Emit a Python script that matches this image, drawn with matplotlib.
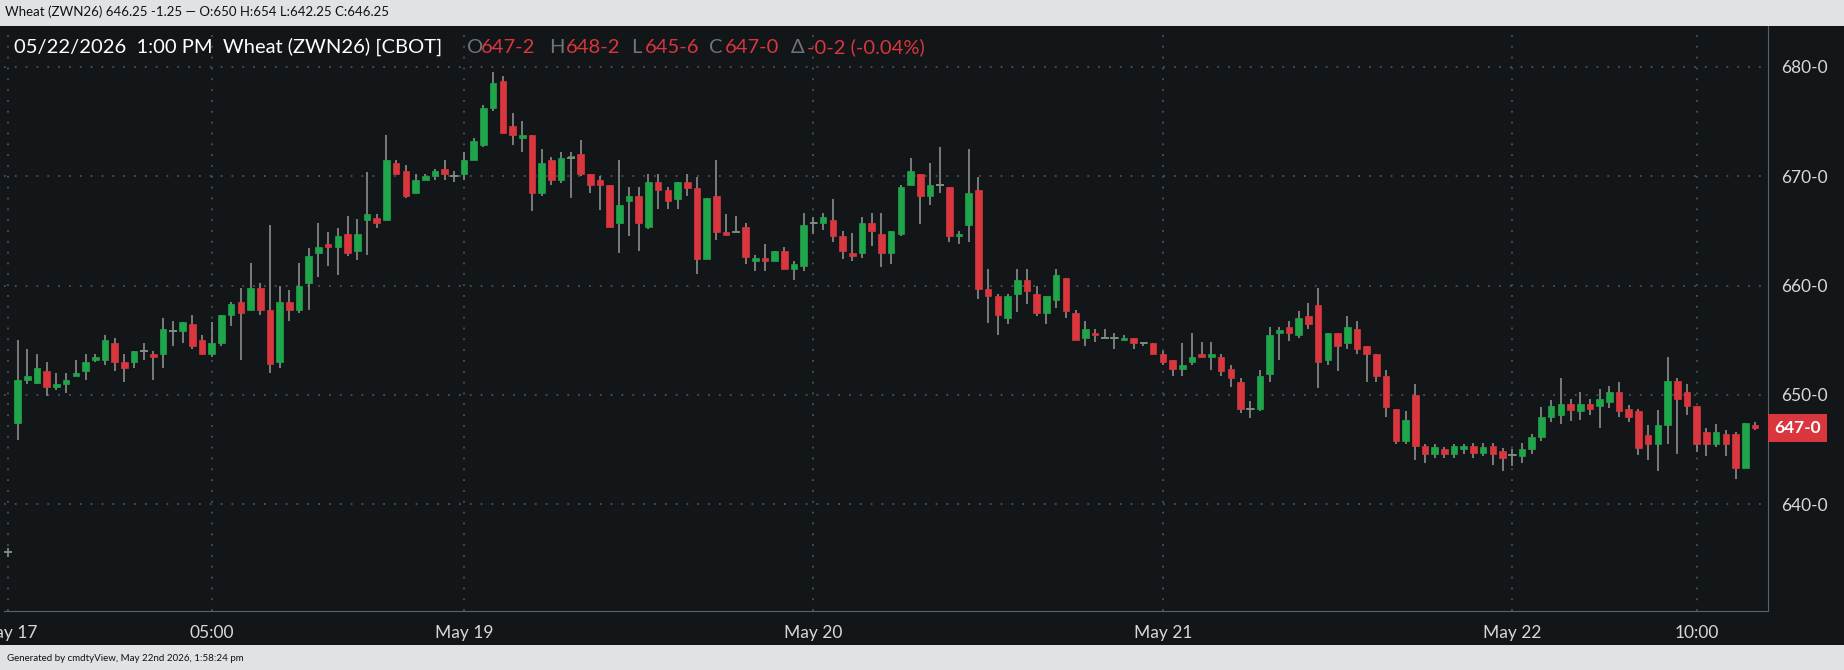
import matplotlib
matplotlib.use("Agg")
import matplotlib.pyplot as plt
import numpy as np

opens = [635.6,
 647.4,651.4,651.1,652.2,650.7,651.0,651.7,652.2,653.2,653.2,654.7,653.0,653.0,654.0,653.7,653.7,655.8,655.8,656.5,655.0,
 653.7,654.7,657.3,658.5,657.8,659.8,657.8,653.0,658.5,657.8,660.2,663.0,663.8,663.5,664.7,663.2,666.0,666.2,666.0,671.2,
 670.5,668.5,669.7,670.0,670.7,670.0,670.2,671.5,672.9,676.2,678.7,674.6,673.5,673.8,668.5,671.5,669.7,671.7,672.0,670.2,
 669.7,669.2,665.7,667.7,668.2,665.4,669.5,668.7,667.9,669.5,668.9,662.4,668.2,664.9,664.9,665.4,662.2,662.5,662.2,663.2,
 661.5,661.8,665.7,665.7,666.0,664.5,663.0,663.0,665.7,664.7,663.0,664.7,669.2,670.2,668.2,669.2,669.0,664.5,665.5,668.7,
 659.7,659.0,657.0,659.2,660.5,659.2,657.5,658.7,660.7,657.5,655.2,655.7,655.2,655.2,655.0,655.2,654.7,654.7,653.7,653.2,
 652.4,653.0,653.7,653.5,653.5,652.4,651.2,648.7,648.7,651.9,655.7,656.2,655.5,657.2,658.2,653.2,655.7,654.7,656.0,654.5,
 653.7,651.7,648.7,645.8,650.0,645.3,644.6,645.0,644.6,645.0,645.3,644.7,645.3,644.9,644.5,644.4,645.0,646.1,648.0,648.2,
 649.2,648.5,649.2,649.0,649.3,650.3,648.7,648.5,646.3,645.5,647.2,651.3,650.3,649.0,646.6,645.5,646.4,646.4,643.3,647.2]
closes = [635.6,
 651.4,651.7,652.5,650.7,651.0,651.4,652.0,653.0,653.5,655.0,653.0,652.5,654.0,654.0,653.5,656.0,655.8,656.7,654.5,653.7,
 654.7,657.3,658.3,657.5,659.8,657.8,652.8,658.5,657.8,660.0,662.7,663.5,663.5,664.5,663.0,664.7,666.5,665.7,671.5,670.2,
 668.2,669.7,670.0,670.5,670.2,670.0,671.5,673.2,676.2,678.5,674.0,673.8,673.8,668.5,671.2,669.7,671.7,671.7,670.2,669.2,
 669.2,665.4,667.4,668.2,665.7,669.5,668.7,667.7,669.5,668.9,662.4,668.0,664.9,664.6,664.9,662.6,662.5,662.2,663.2,661.5,
 662.0,665.5,665.7,666.3,664.5,663.2,662.7,665.7,665.0,663.0,665.0,669.0,670.5,668.2,669.2,669.2,664.5,664.7,668.5,659.7,
 659.0,657.3,659.0,660.5,659.5,657.5,659.0,661.0,657.7,655.0,656.0,655.5,655.2,655.2,655.2,654.7,654.7,653.7,653.0,652.4,
 652.7,653.5,653.5,653.7,652.2,651.5,648.7,648.7,651.7,655.5,655.9,655.7,657.0,656.5,653.0,655.7,654.5,656.2,654.2,653.7,
 651.7,648.9,645.8,647.7,645.3,644.6,645.2,644.6,645.3,645.3,644.7,645.2,644.6,644.2,644.5,645.0,646.1,648.0,649.0,649.2,
 648.6,649.2,648.7,649.6,650.3,648.5,648.0,645.1,645.5,647.2,651.3,649.6,649.0,645.5,645.5,646.6,645.5,643.3,647.4,647.0]
highs = [636.0,
 655.0,654.2,653.7,653.0,652.0,652.0,653.2,653.7,653.7,655.5,655.2,653.7,654.0,654.7,654.0,657.0,656.8,656.7,657.3,655.5,
 656.7,657.3,658.5,659.8,662.1,660.2,665.5,660.0,659.6,662.1,663.4,665.7,664.9,665.3,666.4,666.1,670.4,666.5,673.8,671.5,
 671.0,670.2,670.2,670.7,671.5,670.5,672.2,673.5,676.5,679.5,679.2,675.8,675.1,673.8,672.5,671.8,672.2,672.2,673.3,670.2,
 670.0,669.2,671.5,669.0,669.0,670.2,670.2,669.0,669.5,670.2,669.9,668.0,671.5,666.5,666.4,665.7,662.8,663.8,663.2,663.5,
 662.2,666.6,666.3,666.6,667.9,665.0,664.8,666.3,666.6,666.6,665.0,669.2,671.7,670.2,671.2,672.7,669.0,665.0,672.5,669.9,
 661.5,659.2,659.2,661.5,661.5,660.0,659.0,661.5,660.7,657.8,656.8,656.0,656.0,655.7,655.5,655.2,654.7,654.7,654.0,653.2,
 654.7,655.7,654.8,654.8,653.7,652.7,651.5,649.4,652.3,656.2,656.2,656.8,657.7,658.4,659.8,655.7,655.7,657.2,656.8,654.5,
 653.7,652.3,648.7,648.5,651.0,645.5,645.5,645.2,645.5,645.5,645.6,645.6,645.6,645.1,645.0,645.6,646.4,648.9,649.5,651.5,
 649.6,650.3,649.6,650.5,650.8,651.2,649.1,648.7,647.2,648.6,653.5,651.5,651.0,649.0,647.0,647.3,646.8,646.6,647.4,647.5]
lows = [635.2,
 645.9,651.0,651.0,649.9,650.4,650.2,651.7,651.4,653.0,652.7,652.2,651.2,652.5,653.2,651.4,652.5,654.5,654.7,654.2,653.7,
 653.5,654.5,656.3,653.2,657.8,657.3,652.0,652.5,656.8,657.5,657.8,660.8,661.8,661.0,662.7,662.3,662.8,665.3,666.0,670.2,
 668.0,668.5,669.7,669.7,669.7,669.5,669.7,671.5,672.7,676.0,674.0,672.9,672.2,666.8,668.2,669.2,669.4,668.0,670.0,668.5,
 666.9,665.4,663.0,664.5,663.2,665.2,667.0,667.0,667.0,668.2,661.1,662.4,664.2,664.6,664.9,662.0,661.3,661.3,662.2,661.5,
 660.5,661.3,664.7,665.1,664.0,662.4,662.2,662.5,663.6,661.7,662.0,664.5,669.2,665.6,667.4,668.5,664.0,663.8,664.0,658.8,
 656.6,655.5,656.5,657.6,658.3,657.2,656.5,657.9,657.0,655.0,654.5,654.8,655.2,654.2,655.0,654.2,654.5,653.7,652.7,651.7,
 651.7,652.7,653.5,652.3,651.7,650.7,648.3,647.9,648.5,651.2,653.2,654.9,655.2,656.0,650.6,652.7,652.2,654.2,653.7,651.2,
 651.2,648.0,645.5,645.5,644.0,643.8,644.2,644.2,644.2,644.6,644.2,644.4,643.6,643.0,643.5,643.8,644.6,645.8,647.5,647.3,
 647.6,647.7,648.2,647.0,648.8,648.0,647.5,644.5,644.0,643.0,645.5,644.6,648.2,644.8,644.4,645.2,644.4,642.3,643.3,646.8]

tick_pos = [0, 21, 47, 83, 119, 155, 174]
tick_labels = ["May 17", "05:00", "May 19", "May 20", "May 21", "May 22", "10:00"]
price_ticks = [640, 650, 660, 670, 680]
price_labels = ["640-0", "650-0", "660-0", "670-0", "680-0"]

plt.rcParams['font.family'] = ['Lato', 'DejaVu Sans']

W, H = 1568, 570
BG = "#131619"
GREEN = "#1fa54a"
RED = "#d9363e"
WICK = "#8c8c8c"
GRID = "#4a5258"

fig = plt.figure(figsize=(18.44, 6.70), dpi=100)
fig.patch.set_facecolor("#dfe3e6")
bgax = fig.add_axes([0, 21/H, 1, 527/H])
bgax.set_facecolor(BG)
bgax.set_xticks([]); bgax.set_yticks([])
for s in bgax.spines.values():
    s.set_visible(False)
bgax.set_zorder(0)

ax = fig.add_axes([3/W, (H-520)/H, 1500/W, 498/H])
ax.set_zorder(1)
ax.set_facecolor(BG)

n = len(opens)
idx = np.arange(n)
o = np.array(opens); c = np.array(closes); hi = np.array(highs); lo = np.array(lows)
up = c >= o
cols = np.where(up, GREEN, RED)
ax.vlines(idx, lo, hi, color=WICK, linewidth=1.2, zorder=2)
bottom = np.minimum(o, c)
height = np.maximum(np.abs(c - o), 0.12)
ax.bar(idx, height, bottom=bottom, width=0.68, color=cols, edgecolor=cols, linewidth=0.5, zorder=3)
dj = np.abs(c - o) < 0.05
ax.hlines(c[dj], idx[dj]-0.4, idx[dj]+0.4, color=WICK, linewidth=1.2, zorder=3)

ax.set_xlim(-0.45, n - 1 + 1.3)
ax.set_ylim(630.2, 683.76)
ax.yaxis.tick_right()
ax.set_yticks(price_ticks)
ax.set_yticklabels(price_labels)
ax.set_xticks(tick_pos)
ax.set_xticklabels(tick_labels)
ax.tick_params(colors="#d8d8d8", labelsize=12.5, length=0, pad=10)
ax.tick_params(axis="y", pad=10)
ax.grid(True, color=GRID, linestyle=(0, (1, 5)), linewidth=1.3)
for s in ["top", "left"]:
    ax.spines[s].set_visible(False)
for s in ["right", "bottom"]:
    ax.spines[s].set_color("#5a6268")

ax.annotate("647-0", xy=(1.0, closes[-1]), xycoords=("axes fraction", "data"),
            xytext=(5, 0), textcoords="offset points", ha="left", va="center",
            color="white", fontsize=12.5, fontweight="bold",
            bbox=dict(boxstyle="square,pad=0.35", fc=RED, ec="none"), annotation_clip=False)

fy = (H-40)/H
fig.text(12/W, fy, "05/22/2026  1:00 PM  Wheat (ZWN26) [CBOT]", color="white", fontsize=14.5, va="center")
parts = [(397, "O", "#6f7478"), (409, "647-2", RED), (467, "H", "#6f7478"), (481, "648-2", RED),
         (537, "L", "#6f7478"), (548, "645-6", RED), (603, "C", "#6f7478"), (616, "647-0", RED),
         (672, "Δ", "#6f7478"), (686, "-0-2 (-0.04%)", RED)]
for x, t, col in parts:
    fig.text(x/W, fy, t, color=col, fontsize=14.5, va="center")

fig.text(4/W, (H-10)/H, "Wheat (ZWN26) 646.25 -1.25 — O:650 H:654 L:642.25 C:646.25",
         color="#111111", fontsize=9.5, va="center")
fig.text(6/W, (H-560)/H, "Generated by cmdtyView, May 22nd 2026, 1:58:24 pm",
         color="#111111", fontsize=7, va="center")

fig.savefig("out.png", dpi=100, facecolor=fig.get_facecolor())
